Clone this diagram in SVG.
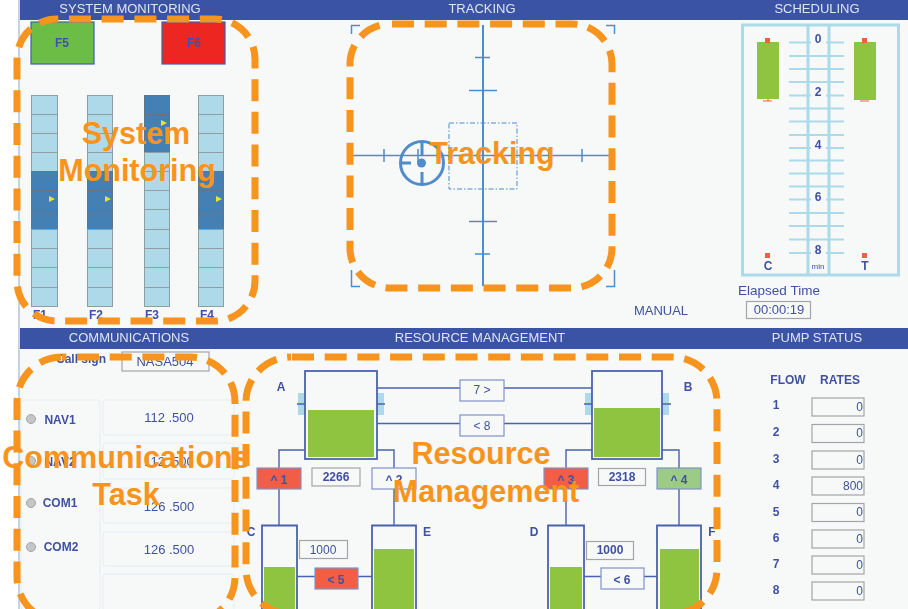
<svg xmlns="http://www.w3.org/2000/svg" width="908" height="609" viewBox="0 0 908 609">
<style>
text{font-family:"Liberation Sans",Arial,sans-serif;fill:#3f51a3;text-anchor:middle;font-size:12px}
.h{fill:#dfe4f2;font-size:13px}
.b{font-weight:bold}
.v{font-size:13px}
.call{font-size:30.5px;font-weight:bold;fill:#f7941d}
.zone{fill:none;stroke:#f7941d;stroke-width:7;stroke-dasharray:22 10.7}
.cell{fill:#aed9e8;stroke:#8f9ea3;stroke-width:1}
.dark{fill:#4480b5;stroke:#5f7688;stroke-width:1}
.mark{fill:#e6e52e}
.trk{stroke:#4f8cc9;fill:none;stroke-width:1.5}
.sch{stroke:#abdae9;stroke-width:2;fill:none}
.rd{fill:#f15d45}
.tank{fill:#f7f8f8;stroke:#4a62ad;stroke-width:1.8}
.lvl{fill:#8fc440}
.pipe{stroke:#4a62ad;stroke-width:1.4;fill:none}
.valve{fill:#aed9e8}
.pmp{stroke:#7f93c9;stroke-width:1.2;fill:#f7f8f8}
.box{fill:#f7f8f8;stroke:#a3a5a8;stroke-width:1.2}
.panel{fill:#f7f8f8;stroke:#e6edf1;stroke-width:1}
.radio{fill:#c4c6c8;stroke:#a3a5a8;stroke-width:1}
</style>
<defs><filter id="soft" x="-2%" y="-2%" width="104%" height="104%"><feGaussianBlur stdDeviation="0.35"/></filter></defs>
<rect width="908" height="609" fill="#ffffff"/>
<g id="ui" filter="url(#soft)">
<rect x="19" y="0" width="889" height="609" fill="#f7f8f8"/>
<rect x="18" y="0" width="2" height="609" fill="#c5d3e3"/>
<g id="headers">
<rect x="20" y="0" width="888" height="20" fill="#3a53a4"/>
<rect x="20" y="328" width="888" height="21" fill="#3a53a4"/>
<text class="h" x="130" y="13">SYSTEM MONITORING</text>
<text class="h" x="482" y="13">TRACKING</text>
<text class="h" x="817" y="13">SCHEDULING</text>
<text class="h" x="129" y="342">COMMUNICATIONS</text>
<text class="h" x="480" y="342">RESOURCE MANAGEMENT</text>
<text class="h" x="817" y="342">PUMP STATUS</text>
</g>
<g id="f5"><rect x="31" y="22" width="63" height="42" fill="#6cbd45" stroke="#3f5fae" stroke-width="1.2"/><text class="b" x="62" y="47">F5</text></g>
<g id="f6"><rect x="162" y="22" width="63" height="42" fill="#ee2524" stroke="#3f5fae" stroke-width="1.2"/><text class="b" x="194" y="47">F6</text></g>
<g id="f1">
<rect class="cell" x="31.500" y="95.500" width="26" height="19"/><rect class="cell" x="31.500" y="114.500" width="26" height="19"/><rect class="cell" x="31.500" y="133.500" width="26" height="19"/><rect class="cell" x="31.500" y="152.500" width="26" height="19"/>
<rect class="dark" x="31.500" y="171.500" width="26" height="19"/><rect class="dark" x="31.500" y="190.500" width="26" height="19"/><rect class="dark" x="31.500" y="209.500" width="26" height="20"/>
<rect class="cell" x="31.500" y="229.500" width="26" height="19"/><rect class="cell" x="31.500" y="248.500" width="26" height="19"/><rect class="cell" x="31.500" y="267.500" width="26" height="20"/><rect class="cell" x="31.500" y="287.500" width="26" height="19"/>
<polygon class="mark" points="49,196 55,199 49,202"/><text class="b" x="40" y="319">F1</text>
</g>
<g id="f2">
<rect class="cell" x="87.500" y="95.500" width="25" height="19"/><rect class="cell" x="87.500" y="114.500" width="25" height="19"/><rect class="cell" x="87.500" y="133.500" width="25" height="19"/><rect class="cell" x="87.500" y="152.500" width="25" height="19"/>
<rect class="dark" x="87.500" y="171.500" width="25" height="19"/><rect class="dark" x="87.500" y="190.500" width="25" height="19"/><rect class="dark" x="87.500" y="209.500" width="25" height="20"/>
<rect class="cell" x="87.500" y="229.500" width="25" height="19"/><rect class="cell" x="87.500" y="248.500" width="25" height="19"/><rect class="cell" x="87.500" y="267.500" width="25" height="20"/><rect class="cell" x="87.500" y="287.500" width="25" height="19"/>
<polygon class="mark" points="105,196 111,199 105,202"/><text class="b" x="96" y="319">F2</text>
</g>
<g id="f3">
<rect class="dark" x="144.500" y="95.500" width="25" height="19"/><rect class="dark" x="144.500" y="114.500" width="25" height="19"/><rect class="dark" x="144.500" y="133.500" width="25" height="19"/>
<rect class="cell" x="144.500" y="152.500" width="25" height="19"/><rect class="cell" x="144.500" y="171.500" width="25" height="19"/><rect class="cell" x="144.500" y="190.500" width="25" height="19"/><rect class="cell" x="144.500" y="209.500" width="25" height="20"/>
<rect class="cell" x="144.500" y="229.500" width="25" height="19"/><rect class="cell" x="144.500" y="248.500" width="25" height="19"/><rect class="cell" x="144.500" y="267.500" width="25" height="20"/><rect class="cell" x="144.500" y="287.500" width="25" height="19"/>
<polygon class="mark" points="161,120 167,123 161,126"/><text class="b" x="152" y="319">F3</text>
</g>
<g id="f4">
<rect class="cell" x="198.500" y="95.500" width="25" height="19"/><rect class="cell" x="198.500" y="114.500" width="25" height="19"/><rect class="cell" x="198.500" y="133.500" width="25" height="19"/><rect class="cell" x="198.500" y="152.500" width="25" height="19"/>
<rect class="dark" x="198.500" y="171.500" width="25" height="19"/><rect class="dark" x="198.500" y="190.500" width="25" height="19"/><rect class="dark" x="198.500" y="209.500" width="25" height="20"/>
<rect class="cell" x="198.500" y="229.500" width="25" height="19"/><rect class="cell" x="198.500" y="248.500" width="25" height="19"/><rect class="cell" x="198.500" y="267.500" width="25" height="20"/><rect class="cell" x="198.500" y="287.500" width="25" height="19"/>
<polygon class="mark" points="216,196 222,199 216,202"/><text class="b" x="207" y="319">F4</text>
</g>
<g id="tracking">
<path class="trk" d="M351.500 34V25.500H360M606 25.500H614.500V34M351.500 270V286.500H360M606 286.500H614.500V270" stroke-width="1"/>
<path class="trk" d="M352 155.500H612" stroke="#6b9ed3" stroke-width="1.3"/>
<path class="trk" style="stroke-width:2" d="M483 25V286"/>
<path class="trk" d="M475 57.500H490M469 90.500H497M469 221.500H497M475 254H490M384 149V162M418 149V162M549 149V162M582 149V162"/>
<rect class="trk" x="449" y="123" width="68" height="66" stroke-dasharray="5 2 1.500 2" style="stroke-width:1"/>
<circle class="trk" style="stroke-width:3" cx="422" cy="163" r="21.500"/>
<path class="trk" style="stroke-width:3" d="M422 142V155M422 172V185M401 163H411"/>
<circle cx="421.500" cy="163" r="4.500" fill="#4f8cc9"/>
</g>
<g id="scheduling">
<rect x="742.500" y="25" width="156" height="250" fill="none" stroke="#abdae9" stroke-width="3"/>
<path class="sch" style="stroke-width:3" d="M808 25V275M829 25V275"/>
<path class="sch" d="M789 42.500H811M826 42.500H844M789 56H844M789 69H844M789 82H844M789 95.500H811M826 95.500H844M789 108.500H844M789 121.500H844M789 135H844M789 148H811M826 148H844M789 160.500H844M789 173.500H844M789 186.500H844M789 199.500H811M826 199.500H844M789 213H844M789 226H844M789 239.500H844M789 253H811M826 253H844"/>
<text class="b" x="818" y="43">0</text><text class="b" x="818" y="96">2</text><text class="b" x="818" y="149">4</text><text class="b" x="818" y="201">6</text><text class="b" x="818" y="254">8</text>
<rect class="lvl" x="757" y="42" width="22" height="57"/><rect class="lvl" x="854" y="42" width="22" height="58"/>
<rect class="rd" x="765" y="38" width="5" height="5"/><rect class="rd" x="862" y="38" width="5" height="5"/>
<path d="M763 101H772M768 99V101M860 101H869" stroke="#f15d45" stroke-width="1.2" fill="none"/>
<rect class="rd" x="765" y="253" width="5" height="5"/><rect class="rd" x="862" y="253" width="5" height="5"/>
<text class="b" x="768" y="270">C</text><text class="b" x="865" y="270">T</text>
<text x="818" y="269" style="font-size:8px">min</text>
</g>
<g id="elapsed"><text x="779" y="295" style="font-size:13.500px">Elapsed Time</text><rect class="box" x="746.500" y="301.500" width="64" height="17"/><text class="v" x="779" y="314">00:00:19</text></g>
<text id="manual" class="v" x="661" y="315">MANUAL</text>
<g id="communications">
<text class="b" x="81" y="363">Call sign</text>
<rect class="box" x="122" y="352" width="87" height="19"/><text class="v" x="165" y="366">NASA504</text>
<rect class="panel" x="21" y="400" rx="3" width="79" height="210"/>
<rect class="panel" x="103" y="400" rx="3" width="131" height="35"/><rect class="panel" x="103" y="443" rx="3" width="131" height="36"/><rect class="panel" x="103" y="488" rx="3" width="131" height="35"/><rect class="panel" x="103" y="532" rx="3" width="131" height="34"/><rect class="panel" x="103" y="574" rx="3" width="131" height="40"/>
<circle class="radio" cx="31" cy="419" r="4.500"/><circle class="radio" cx="31" cy="461" r="4.500"/><circle class="radio" cx="31" cy="503" r="4.500"/><circle class="radio" cx="31" cy="547" r="4.500"/>
<text class="b" x="60" y="424">NAV1</text><text class="b" x="60" y="466">NAV2</text><text class="b" x="60" y="507">COM1</text><text class="b" x="61" y="551">COM2</text>
<text class="v" x="169" y="422">112 .500</text><text class="v" x="169" y="466">112 .500</text><text class="v" x="169" y="511">126 .500</text><text class="v" x="169" y="554">126 .500</text>
</g>
<g id="connectors">
<path class="pipe" d="M377 388H592M377 423.500H592M305 450H279V525M377 450H394V525M592 450H566V525M662 450H679V525M297 576.500H372M584 576.500H657"/>
</g>
<g id="tank-a"><rect class="valve" x="298" y="393" width="7" height="22"/><rect class="valve" x="377" y="393" width="7" height="22"/><path class="pipe" d="M297 404H305M377 404H385"/><rect class="tank" x="305" y="371" width="72" height="88"/><rect class="lvl" x="308" y="410" width="66" height="47"/><text class="b" x="281" y="391">A</text></g>
<g id="tank-b"><rect class="valve" x="585" y="393" width="7" height="22"/><rect class="valve" x="662" y="393" width="7" height="22"/><path class="pipe" d="M584 404H592M662 404H671"/><rect class="tank" x="592" y="371" width="70" height="88"/><rect class="lvl" x="594" y="408" width="66" height="49"/><text class="b" x="688" y="391">B</text></g>
<g id="tank-c"><path class="tank" d="M262 615V525.500H297V615"/><rect class="lvl" x="264" y="567" width="31" height="42"/><text class="b" x="251" y="536">C</text></g>
<g id="tank-e"><path class="tank" d="M372 615V525.500H416V615"/><rect class="lvl" x="374" y="549" width="40" height="60"/><text class="b" x="427" y="536">E</text></g>
<g id="tank-d"><path class="tank" d="M548 615V525.500H584V615"/><rect class="lvl" x="550" y="567" width="32" height="42"/><text class="b" x="534" y="536">D</text></g>
<g id="tank-f"><path class="tank" d="M657 615V525.500H701V615"/><rect class="lvl" x="660" y="549" width="39" height="60"/><text class="b" x="712" y="536">F</text></g>
<g id="pump-7"><rect class="pmp" x="460" y="380" width="44" height="21"/><text x="482" y="394">7 &gt;</text></g>
<g id="pump-8"><rect class="pmp" x="460" y="415" width="44" height="21"/><text x="482" y="430">&lt; 8</text></g>
<g id="pump-1"><rect class="pmp" style="fill:#f15d45" x="257" y="468" width="44" height="21"/><text class="b" x="279" y="484">^ 1</text></g>
<g id="pump-2"><rect class="pmp" x="372" y="468" width="44" height="21"/><text class="b" x="394" y="484">^ 2</text></g>
<g id="pump-3"><rect class="pmp" style="fill:#f15d45" x="544" y="468" width="44" height="21"/><text class="b" x="566" y="484">^ 3</text></g>
<g id="pump-4"><rect class="pmp" style="fill:#9ccb85" x="657" y="468" width="44" height="21"/><text class="b" x="679" y="484">^ 4</text></g>
<g id="pump-5"><rect class="pmp" style="fill:#f15d45" x="315" y="568" width="43" height="21"/><text class="b" x="336" y="584">&lt; 5</text></g>
<g id="pump-6"><rect class="pmp" x="601" y="568" width="43" height="21"/><text class="b" x="622" y="584">&lt; 6</text></g>
<g id="qty-a"><rect class="box" x="312" y="468" width="48" height="18"/><text class="b" x="336" y="481">2266</text></g>
<g id="qty-b"><rect class="box" x="598.500" y="468.500" width="47" height="17"/><text class="b" x="622" y="481">2318</text></g>
<g id="qty-c"><rect class="box" x="299.500" y="540.500" width="48" height="18"/><text x="323" y="554">1000</text></g>
<g id="qty-d"><rect class="box" x="586.500" y="541.500" width="47" height="18"/><text class="b" x="610" y="554">1000</text></g>
<g id="pump-status">
<text class="b" x="788" y="384">FLOW</text><text class="b" x="840" y="384">RATES</text>
<text class="b" x="776" y="409">1</text><text class="b" x="776" y="436">2</text><text class="b" x="776" y="463">3</text><text class="b" x="776" y="489">4</text><text class="b" x="776" y="516">5</text><text class="b" x="776" y="542">6</text><text class="b" x="776" y="568">7</text><text class="b" x="776" y="594">8</text>
<rect class="box" x="812" y="398" width="52" height="18"/><rect class="box" x="812" y="424.500" width="52" height="18"/><rect class="box" x="812" y="451" width="52" height="18"/><rect class="box" x="812" y="477" width="52" height="18"/><rect class="box" x="812" y="503.500" width="52" height="18"/><rect class="box" x="812" y="530" width="52" height="18"/><rect class="box" x="812" y="556" width="52" height="18"/><rect class="box" x="812" y="582" width="52" height="18"/>
<text style="text-anchor:end" x="863" y="411">0</text><text style="text-anchor:end" x="863" y="437">0</text><text style="text-anchor:end" x="863" y="464">0</text><text style="text-anchor:end" x="863" y="490">800</text><text style="text-anchor:end" x="863" y="516">0</text><text style="text-anchor:end" x="863" y="543">0</text><text style="text-anchor:end" x="863" y="569">0</text><text style="text-anchor:end" x="863" y="595">0</text>
</g>
</g>
<g id="zone-system"><rect class="zone" style="stroke-dashoffset:-12" x="17" y="19" width="238" height="302" rx="40"/><text class="call" x="136" y="144">System</text><text class="call" x="137" y="181">Monitoring</text></g>
<g id="zone-tracking"><rect class="zone" style="stroke-dashoffset:-2" x="350" y="24" width="262" height="264" rx="40"/><text class="call" x="492" y="164">Tracking</text></g>
<g id="zone-comm"><rect class="zone" style="stroke-dashoffset:-15" x="17" y="357" width="218" height="265" rx="45"/><text class="call" x="126" y="468">Communications</text><text class="call" x="126" y="505">Task</text></g>
<g id="zone-resource"><rect class="zone" style="stroke-dashoffset:-1" x="246" y="357" width="471" height="257" rx="45"/><text class="call" x="481" y="464">Resource</text><text class="call" x="486" y="502">Management</text></g>
</svg>
